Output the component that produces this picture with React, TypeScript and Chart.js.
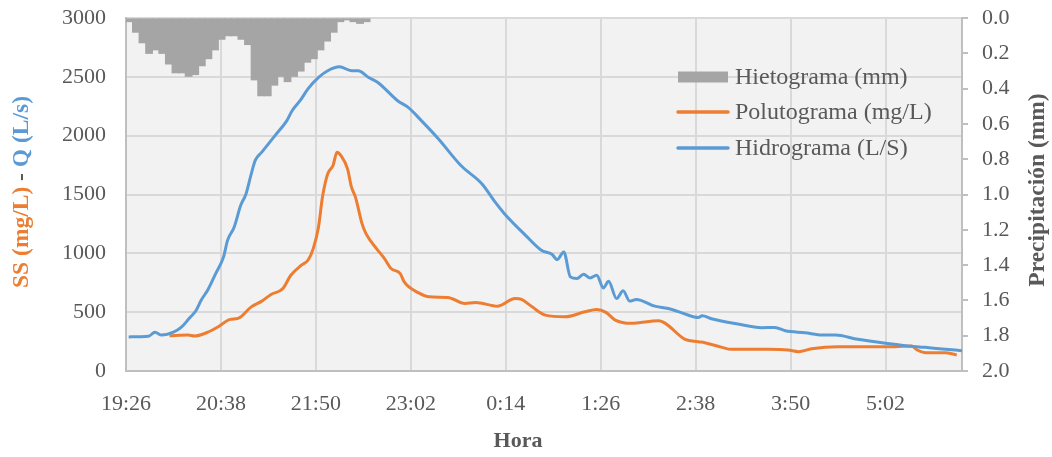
import React, { useEffect, useRef } from 'react';
import { Chart, registerables } from 'chart.js';

Chart.register(...registerables);

// ---- DATA ----
// x values are minutes elapsed since 19:26
const tickMinutes = [0, 72, 144, 216, 288, 360, 432, 504, 576];
const tickLabels = ['19:26', '20:38', '21:50', '23:02', '0:14', '1:26', '2:38', '3:50', '5:02'];
const xMaxMinutes = 634;

// Hietograma: precipitation (mm) per 5-minute interval starting at 19:26
const hietoStep = 5;
const hietoValues = [
  0.02, 0.08, 0.14, 0.2, 0.18, 0.2, 0.26, 0.31, 0.31, 0.33, 0.32, 0.27, 0.23,
  0.18, 0.12, 0.1, 0.1, 0.12, 0.15, 0.35, 0.44, 0.44, 0.38, 0.33, 0.36, 0.33,
  0.3, 0.25, 0.23, 0.18, 0.13, 0.08, 0.02, 0.01, 0.02, 0.03, 0.02,
];

// Hidrograma (L/s)
const hidroMinutes = [
  2, 17, 22, 27, 36, 42, 48, 53, 57, 62, 68, 74, 77, 82, 87, 91, 95, 98, 103, 113,
  122, 126, 132, 138, 146, 153, 162, 171, 176, 184, 191, 206, 214, 224, 237, 254,
  270, 280, 287, 303, 315, 323, 327, 332, 337, 342, 347, 352, 357, 362, 366, 372,
  377, 382, 387, 401, 414, 424, 434, 437, 444, 464, 482, 492, 500, 515, 528, 538,
  555, 576, 591, 606, 619, 634,
];
const hidroValues = [
  290, 295, 330, 305, 330, 372, 448, 512, 602, 688, 828, 970, 1110, 1222, 1408,
  1505, 1676, 1790, 1860, 2000, 2128, 2212, 2297, 2397, 2495, 2552, 2585, 2552,
  2552, 2495, 2452, 2297, 2240, 2128, 1972, 1746, 1590, 1435, 1337, 1153, 1026,
  992, 947, 1012, 800, 786, 823, 791, 814, 706, 763, 616, 681, 594, 608, 551, 523,
  484, 455, 469, 444, 399, 368, 370, 342, 325, 306, 306, 269, 235, 215, 201, 187,
  173,
];

// Polutograma (mg/L)
const poluMinutes = [
  33, 47, 52, 61, 70, 79, 85, 95, 103, 110, 119, 125, 133, 138, 142, 146, 149, 153,
  157, 160, 163, 168, 171, 174, 179, 182, 190, 196, 201, 208, 211, 222, 230, 244,
  257, 265, 282, 295, 300, 308, 318, 333, 348, 357, 364, 371, 383, 404, 409, 424,
  434, 439, 452, 459, 487, 502, 510, 520, 540, 576, 596, 600, 606, 621, 630,
];
const poluValues = [
  300, 306, 297, 325, 376, 439, 447, 545, 594, 650, 701, 814, 899, 941, 1040, 1223,
  1478, 1676, 1746, 1859, 1831, 1718, 1562, 1478, 1252, 1167, 1040, 956, 871, 828,
  757, 664, 630, 625, 574, 582, 551, 616, 608, 545, 475, 461, 503, 523, 498, 433,
  405, 427, 405, 269, 249, 240, 201, 184, 184, 178, 164, 189, 206, 206, 212, 178,
  156, 156, 136,
];

// ---- STYLE ----
const FONT = "'Liberation Serif', 'Times New Roman', serif";
const TEXT = '#595959';
const ORANGE = '#ED7D31';
const BLUE = '#5B9BD5';
const GRAY = '#A5A5A5';
const GRID = '#D9D9D9';
const AXIS = '#BFBFBF';
const FS = 22;
const TITLE_FS = 23.5;
const LEGEND_FS = 24;

const decorPlugin = {
  id: 'decor',
  beforeDraw(chart: any) {
    const { ctx, chartArea: a } = chart;
    ctx.save();
    ctx.fillStyle = '#F2F2F2';
    ctx.fillRect(a.left, a.top, a.right - a.left, a.bottom - a.top);
    ctx.restore();
  },
  afterDraw(chart: any) {
    const { ctx } = chart;
    ctx.save();
    // Left title (multi-colour)
    ctx.font = `bold ${TITLE_FS}px ${FONT}`;
    const parts = [
      { t: 'SS (mg/L)', c: ORANGE },
      { t: ' - ', c: TEXT },
      { t: 'Q (L/s)', c: BLUE },
    ];
    const total = parts.reduce((s, p) => s + ctx.measureText(p.t).width, 0);
    ctx.save();
    ctx.translate(22, 192);
    ctx.rotate(-Math.PI / 2);
    ctx.textBaseline = 'middle';
    ctx.textAlign = 'left';
    let px = -total / 2;
    for (const p of parts) {
      ctx.fillStyle = p.c;
      ctx.fillText(p.t, px, 0);
      px += ctx.measureText(p.t).width;
    }
    ctx.restore();

    // Right title
    ctx.save();
    ctx.translate(1038, 190);
    ctx.rotate(-Math.PI / 2);
    ctx.textBaseline = 'middle';
    ctx.textAlign = 'center';
    ctx.fillStyle = TEXT;
    ctx.fillText('Precipitación (mm)', 0, 0);
    ctx.restore();

    // X title
    ctx.font = `bold ${FS}px ${FONT}`;
    ctx.textAlign = 'center';
    ctx.textBaseline = 'middle';
    ctx.fillStyle = TEXT;
    ctx.fillText('Hora', 518, 441);

    // Legend
    ctx.font = `${LEGEND_FS}px ${FONT}`;
    ctx.textAlign = 'left';
    const rows = [
      { label: 'Hietograma (mm)', y: 77, kind: 'bar', c: GRAY },
      { label: 'Polutograma (mg/L)', y: 112, kind: 'line', c: ORANGE },
      { label: 'Hidrograma (L/S)', y: 148, kind: 'line', c: BLUE },
    ];
    for (const r of rows) {
      if (r.kind === 'bar') {
        ctx.fillStyle = r.c;
        ctx.fillRect(678, r.y - 5.5, 50, 11);
      } else {
        ctx.strokeStyle = r.c;
        ctx.lineWidth = 3.5;
        ctx.lineCap = 'round';
        ctx.beginPath();
        ctx.moveTo(678, r.y);
        ctx.lineTo(728, r.y);
        ctx.stroke();
      }
      ctx.fillStyle = TEXT;
      ctx.fillText(r.label, 735, r.y + 1);
    }
    ctx.restore();
  },
};

export default function App() {
  const ref = useRef<HTMLCanvasElement | null>(null);
  useEffect(() => {
    document.body.style.margin = '0';
    const canvas = ref.current!;
    const chart = new Chart(canvas, {
      type: 'bar',
      data: {
        datasets: [
          {
            type: 'line',
            label: 'Hidrograma (L/S)',
            data: hidroMinutes.map((m, i) => ({ x: m, y: hidroValues[i] })),
            borderColor: BLUE,
            borderWidth: 3,
            pointRadius: 0,
            cubicInterpolationMode: 'monotone',
            yAxisID: 'y',
            order: 0,
          } as any,
          {
            type: 'line',
            label: 'Polutograma (mg/L)',
            data: poluMinutes.map((m, i) => ({ x: m, y: poluValues[i] })),
            borderColor: ORANGE,
            borderWidth: 3,
            pointRadius: 0,
            cubicInterpolationMode: 'monotone',
            yAxisID: 'y',
            order: 1,
          } as any,
          {
            type: 'bar',
            label: 'Hietograma (mm)',
            data: hietoValues.map((v, i) => ({ x: i * hietoStep + hietoStep / 2, y: v })),
            backgroundColor: GRAY,
            borderWidth: 0,
            inflateAmount: 0.6,
            barPercentage: 1,
            categoryPercentage: 1,
            yAxisID: 'y2',
            order: 2,
          } as any,
        ],
      },
      options: {
        responsive: false,
        animation: false,
        devicePixelRatio: 1,
        layout: { padding: { top: 18, left: 0, right: 0, bottom: 0 } },
        plugins: { legend: { display: false }, tooltip: { enabled: false } },
        scales: {
          x: {
            type: 'linear',
            offset: false,
            min: 0,
            max: xMaxMinutes,
            afterBuildTicks: (s: any) => {
              s.ticks = tickMinutes.map((v) => ({ value: v }));
            },
            afterFit: (s: any) => {
              s.height = 86;
            },
            ticks: {
              font: { family: FONT, size: FS },
              color: TEXT,
              padding: 20,
              maxRotation: 0,
              autoSkip: false,
              callback: (v: any) => {
                const idx = tickMinutes.indexOf(Number(v));
                return idx >= 0 ? tickLabels[idx] : '';
              },
            },
            grid: { color: GRID, lineWidth: 2, drawTicks: false, offset: false },
            border: { display: true, color: AXIS, width: 2 },
          },
          y: {
            type: 'linear',
            position: 'left',
            min: 0,
            max: 3000,
            ticks: {
              stepSize: 500,
              font: { family: FONT, size: FS },
              color: TEXT,
              padding: 20,
              callback: (v: any) => String(v),
            },
            afterFit: (s: any) => {
              s.width = 126;
              s.paddingTop = 0;
              s.paddingBottom = 0;
            },
            grid: { color: GRID, lineWidth: 2, drawTicks: false },
            border: { display: true, color: AXIS, width: 2 },
          },
          y2: {
            type: 'linear',
            position: 'right',
            reverse: true,
            min: 0,
            max: 2,
            ticks: {
              stepSize: 0.2,
              font: { family: FONT, size: FS },
              color: TEXT,
              padding: 14,
              callback: (v: any) => Number(v).toFixed(1),
            },
            afterFit: (s: any) => {
              s.width = 90;
              s.paddingTop = 0;
              s.paddingBottom = 0;
            },
            grid: { drawOnChartArea: false, color: AXIS, lineWidth: 2, tickLength: 6 },
            border: { display: true, color: AXIS, width: 2 },
          },
        },
      },
      plugins: [decorPlugin],
    } as any);
    return () => chart.destroy();
  }, []);
  return (
    <canvas
      ref={ref}
      width={1052}
      height={457}
      style={{ display: 'block', width: '1052px', height: '457px' }}
    />
  );
}
